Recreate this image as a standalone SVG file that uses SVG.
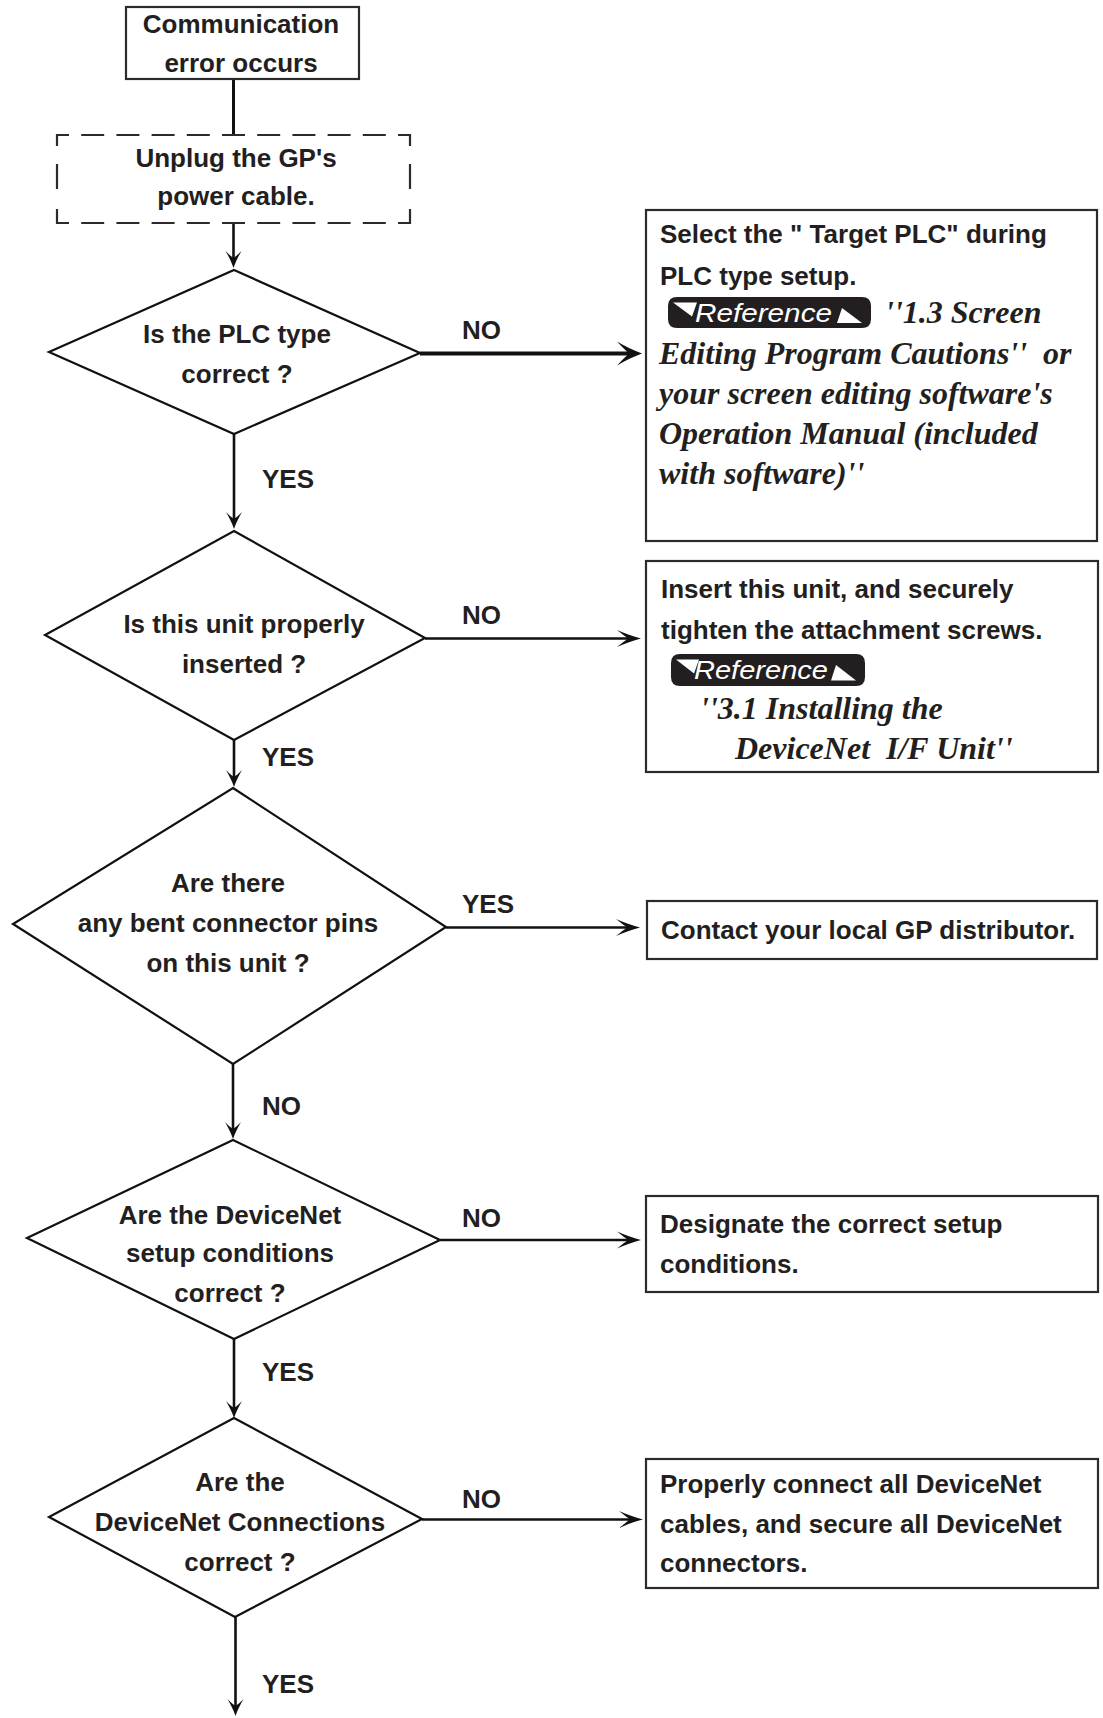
<svg xmlns="http://www.w3.org/2000/svg" width="1103" height="1718" viewBox="0 0 1103 1718">
<style>
  .box { fill: #fff; stroke: #2b2b2b; stroke-width: 2.2; }
  .dia { fill: #fff; stroke: #111; stroke-width: 2.2; stroke-linejoin: miter; }
  .t { font-family: "Liberation Sans", Arial, sans-serif; font-weight: bold; font-size: 26px; fill: #231f20; }
  .c { text-anchor: middle; }
  .it { font-family: "Liberation Serif", "Times New Roman", serif; font-weight: bold; font-style: italic; font-size: 32px; fill: #231f20; white-space: pre; }
  .ref { font-family: "Liberation Sans", Arial, sans-serif; font-style: italic; font-size: 25px; fill: #fff; }
  .badge { fill: #231f20; }
  .notch { fill: #fff; }
  .dash { fill: none; stroke: #2b2b2b; stroke-width: 2.2; }
</style>
<defs>
  <marker id="arrS" viewBox="0 0 20 20" refX="11" refY="10" markerWidth="20" markerHeight="20" markerUnits="userSpaceOnUse" orient="auto">
    <path d="M19,10 C13,8 7,5 2,2 C6,6 8,8.5 9,10 C8,11.5 6,14 2,18 C7,15 13,12 19,10 Z" fill="#111"/>
  </marker>
  <marker id="arrM" viewBox="0 0 26 20" refX="13" refY="10" markerWidth="26" markerHeight="20" markerUnits="userSpaceOnUse" orient="auto">
    <path d="M25,10 C17,8 9,5 1,1.5 C6,5.5 10,8.5 12,10 C10,11.5 6,14.5 1,18.5 C9,15 17,12 25,10 Z" fill="#111"/>
  </marker>
  <marker id="arrL" viewBox="0 0 27 26" refX="14" refY="13" markerWidth="27" markerHeight="26" markerUnits="userSpaceOnUse" orient="auto">
    <path d="M26,13 C18,10 9,6 1,1 C6,6 10,10.5 13,13 C10,15.5 6,20 1,25 C9,20 18,16 26,13 Z" fill="#111"/>
  </marker>
</defs>
<rect width="1103" height="1718" fill="#fff"/>

<g id="connectors" stroke="#111" fill="none" stroke-width="2.6">
  <line x1="233.5" y1="79" x2="233.5" y2="135" stroke-width="3"/>
  <line x1="233.5" y1="223" x2="233.5" y2="260" marker-end="url(#arrS)"/>
  <line x1="420" y1="353.5" x2="630" y2="353.5" stroke-width="4" marker-end="url(#arrL)"/>
  <line x1="234" y1="434" x2="234" y2="521" marker-end="url(#arrS)"/>
  <line x1="425" y1="638.5" x2="629" y2="638.5" marker-end="url(#arrM)"/>
  <line x1="234" y1="740" x2="234" y2="779" marker-end="url(#arrS)"/>
  <line x1="446" y1="927.5" x2="628" y2="927.5" marker-end="url(#arrM)"/>
  <line x1="233" y1="1064" x2="233" y2="1131" marker-end="url(#arrS)"/>
  <line x1="440" y1="1240" x2="629" y2="1240" marker-end="url(#arrM)"/>
  <line x1="234" y1="1339" x2="234" y2="1410" marker-end="url(#arrS)"/>
  <line x1="422" y1="1519.5" x2="631" y2="1519.5" marker-end="url(#arrM)"/>
  <line x1="235.5" y1="1617" x2="235.5" y2="1708" marker-end="url(#arrS)"/>
</g>

<g id="labels" class="t">
  <text x="462" y="339">NO</text>
  <text x="262" y="488">YES</text>
  <text x="462" y="624">NO</text>
  <text x="262" y="766">YES</text>
  <text x="462" y="913">YES</text>
  <text x="262" y="1115">NO</text>
  <text x="462" y="1227">NO</text>
  <text x="262" y="1381">YES</text>
  <text x="462" y="1508">NO</text>
  <text x="262" y="1693">YES</text>
</g>

<g id="start">
  <rect class="box" x="126" y="7" width="233" height="72"/>
  <text class="t c" x="241" y="33">Communication</text>
  <text class="t c" x="241" y="72">error occurs</text>
</g>

<g id="unplug">
  <rect x="57" y="135" width="353" height="88" fill="#fff"/>
  <line class="dash" x1="57" y1="135" x2="410" y2="135" stroke-dasharray="23 12.2" stroke-dashoffset="11"/>
  <line class="dash" x1="57" y1="223" x2="410" y2="223" stroke-dasharray="23 12.2" stroke-dashoffset="11"/>
  <line class="dash" x1="57" y1="134" x2="57" y2="224" stroke-dasharray="12 18 25 20 15"/>
  <line class="dash" x1="410" y1="134" x2="410" y2="224" stroke-dasharray="12 18 25 20 15"/>
  <text class="t c" x="236" y="167">Unplug the GP's</text>
  <text class="t c" x="236" y="205">power cable.</text>
</g>

<g id="q-plc-type">
  <polygon class="dia" points="234,270 420,353 234,434 49,352"/>
  <text class="t c" x="237" y="343">Is the PLC type</text>
  <text class="t c" x="237" y="383">correct ?</text>
</g>

<g id="a-select-plc">
  <rect class="box" x="646" y="210" width="451" height="331"/>
  <text class="t" x="660" y="243">Select the " Target PLC" during</text>
  <text class="t" x="660" y="285">PLC type setup.</text>
  <path class="badge" d="M677,297 L862,297 Q871,297 871,306 L871,319 Q871,328 862,328 L677,328 Q668,328 668,319 L668,306 Q668,297 677,297 Z"/>
  <polygon class="notch" points="673,302.5 697,302.5 692,316.5"/>
  <polygon class="notch" points="842,308 837,323 862,323"/>
  <text class="ref" x="695" y="321.5" textLength="137" lengthAdjust="spacingAndGlyphs">Reference</text>
  <text class="it" x="885" y="323">''1.3 Screen</text>
  <text class="it" x="659" y="364">Editing Program Cautions''  or</text>
  <text class="it" x="659" y="404">your screen editing software's</text>
  <text class="it" x="659" y="444">Operation Manual (included</text>
  <text class="it" x="659" y="484">with software)''</text>
</g>

<g id="q-inserted">
  <polygon class="dia" points="234,531 425,638 234,740 45,635"/>
  <text class="t c" x="244" y="633">Is this unit properly</text>
  <text class="t c" x="244" y="673">inserted ?</text>
</g>

<g id="a-insert">
  <rect class="box" x="646" y="561" width="452" height="211"/>
  <text class="t" x="661" y="598">Insert this unit, and securely</text>
  <text class="t" x="661" y="639">tighten the attachment screws.</text>
  <path class="badge" d="M680,654 L856,654 Q865,654 865,663 L865,677 Q865,686 856,686 L680,686 Q671,686 671,677 L671,663 Q671,654 680,654 Z"/>
  <polygon class="notch" points="676,659.5 699,659.5 694,673.5"/>
  <polygon class="notch" points="836,665 831,680.5 856,680.5"/>
  <text class="ref" x="694" y="678.5" textLength="134" lengthAdjust="spacingAndGlyphs">Reference</text>
  <text class="it" x="700" y="719">''3.1 Installing the</text>
  <text class="it" x="735" y="759">DeviceNet  I/F Unit''</text>
</g>

<g id="q-bent-pins">
  <polygon class="dia" points="233,788 446,927 233,1064 13,924"/>
  <text class="t c" x="228" y="892">Are there</text>
  <text class="t c" x="228" y="931.5">any bent connector pins</text>
  <text class="t c" x="228" y="971.5">on this unit ?</text>
</g>

<g id="a-contact">
  <rect class="box" x="647" y="901" width="450" height="58"/>
  <text class="t" x="661" y="939">Contact your local GP distributor.</text>
</g>

<g id="q-setup">
  <polygon class="dia" points="233,1140 440,1240 234,1339 27,1238"/>
  <text class="t c" x="230" y="1223.5">Are the DeviceNet</text>
  <text class="t c" x="230" y="1262">setup conditions</text>
  <text class="t c" x="230" y="1302">correct ?</text>
</g>

<g id="a-designate">
  <rect class="box" x="646" y="1196" width="452" height="96"/>
  <text class="t" x="660" y="1233">Designate the correct setup</text>
  <text class="t" x="660" y="1273">conditions.</text>
</g>

<g id="q-connections">
  <polygon class="dia" points="234,1418 422,1519 235,1617 49,1517"/>
  <text class="t c" x="240" y="1491">Are the</text>
  <text class="t c" x="240" y="1531">DeviceNet Connections</text>
  <text class="t c" x="240" y="1571">correct ?</text>
</g>

<g id="a-connect">
  <rect class="box" x="646" y="1459" width="452" height="129"/>
  <text class="t" x="660" y="1493">Properly connect all DeviceNet</text>
  <text class="t" x="660" y="1533">cables, and secure all DeviceNet</text>
  <text class="t" x="660" y="1572">connectors.</text>
</g>
</svg>
